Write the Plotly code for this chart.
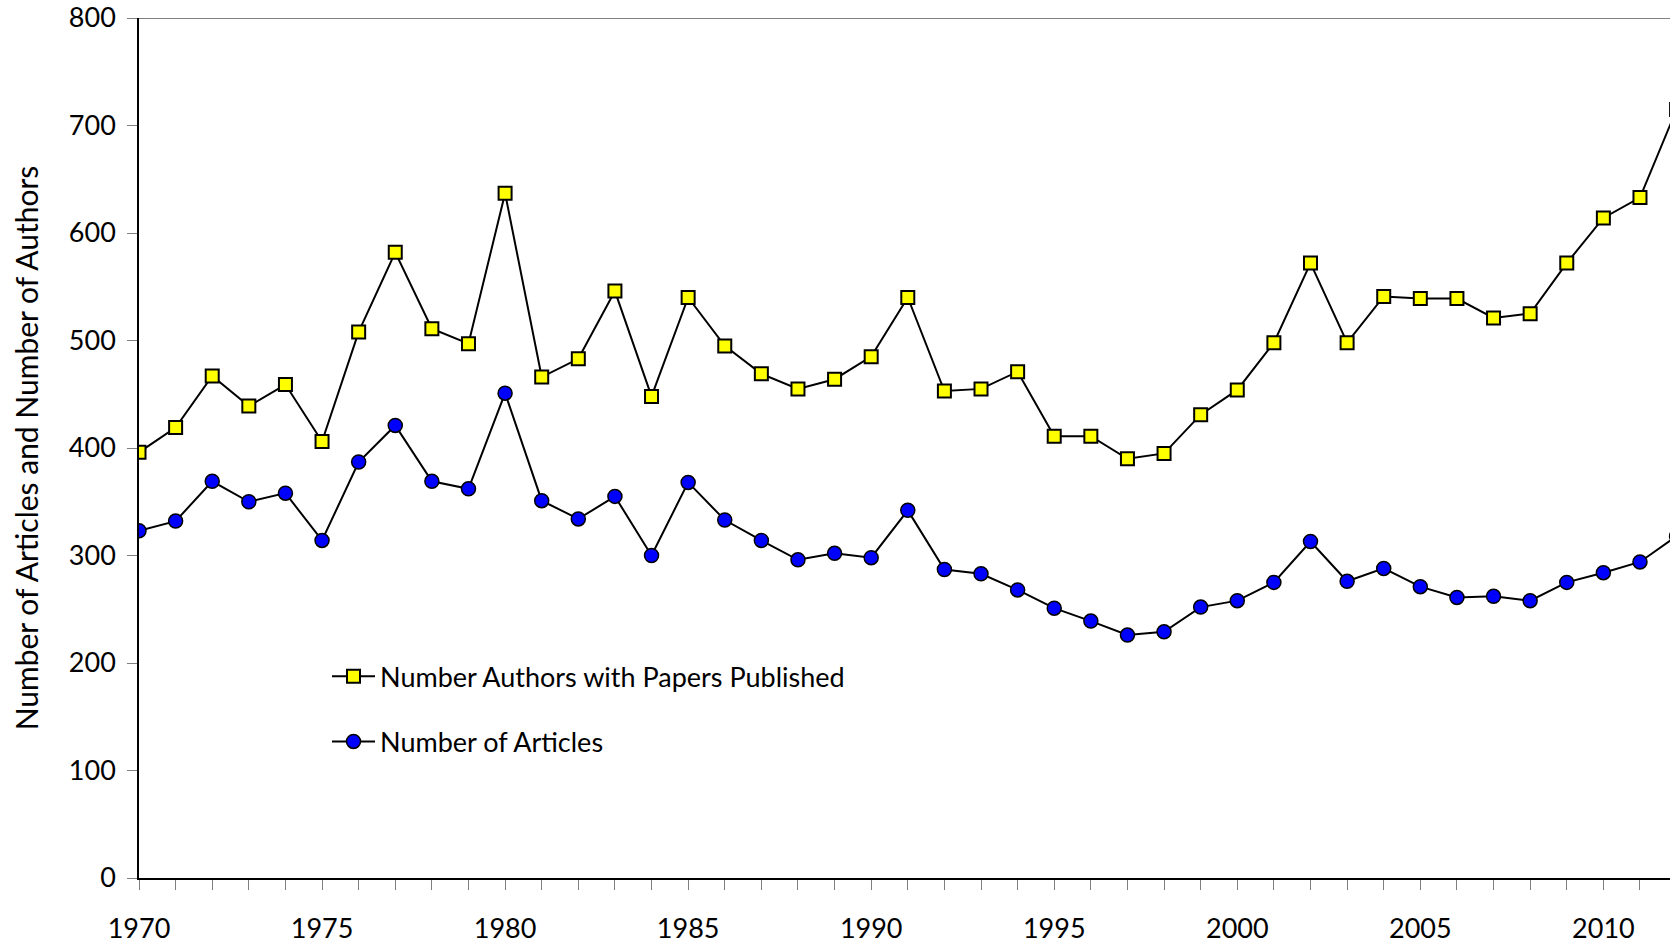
import plotly.graph_objects as go

years = list(range(1970, 2013))
authors = [396, 419, 467, 439, 459, 406, 508, 582, 511, 497,
           637, 466, 483, 546, 448, 540, 495, 469, 455, 464,
           485, 540, 453, 455, 471, 411, 411, 390, 395, 431,
           454, 498, 572, 498, 541, 539, 539, 521, 525, 572,
           614, 633, 715]
articles = [323, 332, 369, 350, 358, 314, 387, 421, 369, 362,
            451, 351, 334, 355, 300, 368, 333, 314, 296, 302,
            298, 342, 287, 283, 268, 251, 239, 226, 229, 252,
            258, 275, 313, 276, 288, 271, 261, 262, 258, 275,
            284, 294, 318]
tick_years = [1970, 1975, 1980, 1985, 1990, 1995, 2000, 2005, 2010]
y_ticks = [0, 100, 200, 300, 400, 500, 600, 700, 800]

FONT = "Lato"

fig = go.Figure()
fig.add_trace(go.Scatter(
    x=years, y=authors, mode="lines+markers",
    name="Number Authors with Papers Published",
    legendgroup="a",
    line=dict(color="black", width=2),
    marker=dict(symbol="square", size=13, color="#ffff00",
                line=dict(color="black", width=2)),
))
fig.add_trace(go.Scatter(
    x=years, y=articles, mode="lines+markers",
    name="Number of Articles",
    legendgroup="b",
    line=dict(color="black", width=2),
    marker=dict(symbol="circle", size=14, color="#0000ff",
                line=dict(color="black", width=1.5)),
))

fig.update_layout(
    width=1670, height=946,
    paper_bgcolor="white", plot_bgcolor="white",
    margin=dict(l=139, r=0, t=18, b=68, autoexpand=False),
    font=dict(family=FONT, size=27, color="black"),
    showlegend=True,
    legend=dict(
        x=0.1228, y=0.2625, xanchor="left", yanchor="top",
        bgcolor="rgba(0,0,0,0)",
        font=dict(family=FONT, size=27, color="black"),
        traceorder="grouped", tracegroupgap=27,
        itemwidth=43,
    ),
    xaxis=dict(
        range=[1970, 2011.82],
        automargin=False,
        tickmode="array", tickvals=tick_years,
        ticktext=[str(y) for y in tick_years],
        showgrid=False, zeroline=False,
        showline=True, linecolor="black", linewidth=1.5,
        ticks="outside", ticklen=10, tickcolor="#808080", tickwidth=1,
        minor=dict(tickmode="array", tickvals=years, ticks="outside",
                   ticklen=10, tickcolor="#808080", tickwidth=1, showgrid=False),
        tickfont=dict(family=FONT, size=27),
        ticklabelstandoff=16,
    ),
    yaxis=dict(
        range=[0, 800],
        automargin=False,
        tickmode="array", tickvals=y_ticks,
        showgrid=False, zeroline=False,
        showline=True, linecolor="black", linewidth=1.5,
        ticks="outside", ticklen=10, tickcolor="#808080", tickwidth=1,
        tickfont=dict(family=FONT, size=27),
        ticklabelstandoff=6,
        title=dict(text="Number of Articles and Number of Authors",
                   font=dict(family=FONT, size=30), standoff=21),
    ),
    shapes=[dict(type="line", xref="paper", yref="y", x0=0, x1=1, y0=800, y1=800,
                 line=dict(color="#808080", width=2))],
)

fig.write_html(
    "out.html",
    config={"displayModeBar": False},
    post_script="document.body.style.margin='0px';document.body.style.overflow='hidden';",
)
